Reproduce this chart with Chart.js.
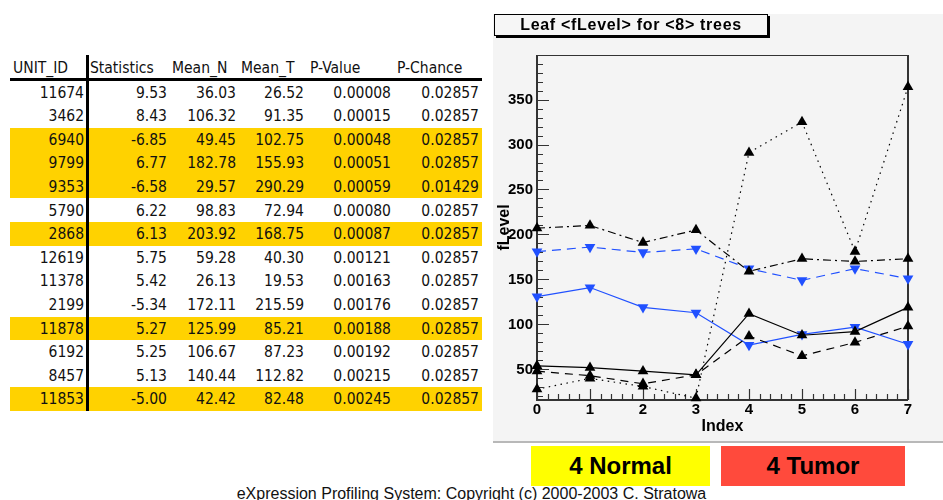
<!DOCTYPE html>
<html>
<head>
<meta charset="utf-8">
<script src="https://cdn.jsdelivr.net/npm/chart.js@4.4.0/dist/chart.umd.min.js"></script>
<style>
  html, body { margin: 0; padding: 0; background: #fff; }
  body { width: 943px; height: 500px; position: relative; overflow: hidden; }
  .cell { position: absolute; font-family: "DejaVu Sans Condensed", "DejaVu Sans", sans-serif; font-stretch: condensed; font-size: 15.5px; color: #111; white-space: nowrap; }
  .hl { position: absolute; left: 10px; width: 472px; background: #ffd200; }
  #panel { position: absolute; left: 493px; top: 14px; width: 450px; height: 427px; background: #f4f4f4; border-bottom: 2px solid #b8b8b8; }
  #plotTitle { position: absolute; left: 494px; top: 14px; width: 272px; height: 20px; border: 1px solid #000; background: #f6f6f6; box-shadow: 2px 2px 0 #000;
    font: bold 16px "Liberation Sans", Arial, sans-serif; letter-spacing: 0.7px; text-align: center; line-height: 20px; z-index: 2; }
  #chartBox { position: absolute; left: 493px; top: 14px; width: 450px; height: 428px; z-index: 1; }
  .legendBox { position: absolute; top: 446px; height: 40px; font: bold 24px "Liberation Sans", Arial, sans-serif; text-align: center; line-height: 40px; color: #000; }
  #footer { position: absolute; left: 0; width: 943px; top: 486px; text-align: center; font: 16px "Liberation Sans", Arial, sans-serif; line-height: 16px; color: #111; }
</style>
</head>
<body>
<div id="table"></div>
<div id="panel"></div>
<div id="plotTitle">Leaf &lt;fLevel&gt; for &lt;8&gt; trees</div>
<div id="chartBox"><canvas id="treeChart" width="450" height="428"></canvas></div>
<div class="legendBox" style="left:531px;width:179px;background:#ffff00;">4 Normal</div>
<div class="legendBox" style="left:721px;width:184px;background:#ff4a3c;">4 Tumor</div>
<div id="footer">eXpression Profiling System: Copyright (c) 2000-2003 C. Stratowa</div>

<script>
// table values
var headers = ['UNIT_ID', 'Statistics', 'Mean_N', 'Mean_T', 'P-Value', 'P-Chance'];
var unitIds = ['11674', '3462', '6940', '9799', '9353', '5790', '2868', '12619', '11378', '2199', '11878', '6192', '8457', '11853'];
var statistics = ['9.53', '8.43', '-6.85', '6.77', '-6.58', '6.22', '6.13', '5.75', '5.42', '-5.34', '5.27', '5.25', '5.13', '-5.00'];
var meanN = ['36.03', '106.32', '49.45', '182.78', '29.57', '98.83', '203.92', '59.28', '26.13', '172.11', '125.99', '106.67', '140.44', '42.42'];
var meanT = ['26.52', '91.35', '102.75', '155.93', '290.29', '72.94', '168.75', '40.30', '19.53', '215.59', '85.21', '87.23', '112.82', '82.48'];
var pValue = ['0.00008', '0.00015', '0.00048', '0.00051', '0.00059', '0.00080', '0.00087', '0.00121', '0.00163', '0.00176', '0.00188', '0.00192', '0.00215', '0.00245'];
var pChance = ['0.02857', '0.02857', '0.02857', '0.02857', '0.01429', '0.02857', '0.02857', '0.02857', '0.02857', '0.02857', '0.02857', '0.02857', '0.02857', '0.02857'];
var highlighted = ['6940', '9799', '9353', '2868', '11878', '11853'];

// chart values (fLevel per tree index, 0-3 normal, 4-7 tumor)
var treeIndex = [0, 1, 2, 3, 4, 5, 6, 7];
var level6940 = [54, 52, 48, 44, 112, 88, 92, 119];
var level9799 = [181, 186, 180, 184, 162, 149, 162, 151];
var level9353 = [28, 40, 31, 18, 291, 325, 181, 364];
var level2868 = [207, 210, 191, 205, 159, 173, 170, 173];
var level11878 = [131, 141, 119, 113, 77, 89, 97, 78];
var level11853 = [48, 43, 34, 44, 87, 65, 80, 98];
var yTickValues = [50, 100, 150, 200, 250, 300, 350];

// build the table
(function buildTable() {
    var box = document.getElementById('table');
    var cols = [unitIds, statistics, meanN, meanT, pValue, pChance];
    var rightEdges = [84, 167, 236, 304, 391, 479];
    var headerLeft = [13, 90, 172, 241, 310, 397];
    var rowTop = 80.5, rowH = 23.6;
    var html = '';
    for (var r = 0; r < unitIds.length; r++) {
        if (highlighted.indexOf(unitIds[r]) >= 0) {
            html += '<div class="hl" style="top:' + (rowTop + r * rowH) + 'px;height:' + rowH + 'px"></div>';
        }
    }
    for (var c = 0; c < headers.length; c++) {
        html += '<div class="cell" style="left:' + headerLeft[c] + 'px;top:57px;line-height:22px">' + headers[c] + '</div>';
        for (var r = 0; r < unitIds.length; r++) {
            html += '<div class="cell" style="right:' + (943 - rightEdges[c]) + 'px;top:' + (rowTop + r * rowH + 1) +
                'px;line-height:' + rowH + 'px">' + cols[c][r] + '</div>';
        }
    }
    // header rule and separator
    html += '<div style="position:absolute;left:10px;width:472px;top:78px;height:3px;background:#000"></div>';
    html += '<div style="position:absolute;left:86px;width:3px;top:55px;height:356px;background:#000"></div>';
    box.innerHTML = html;
})();

// frame and ROOT-like inner ticks
var rootFrame = {
    id: 'rootFrame',
    beforeDatasetsDraw: function(chart) {
        var ctx = chart.ctx, a = chart.chartArea;
        var x = chart.scales.x, y = chart.scales.y;
        ctx.save();
        ctx.strokeStyle = '#333';
        ctx.lineWidth = 1;
        ctx.beginPath();
        ctx.moveTo(a.left, a.top + 0.5);
        ctx.lineTo(a.right, a.top + 0.5);
        ctx.stroke();
        ctx.lineWidth = 2;
        ctx.beginPath();
        ctx.moveTo(a.right, a.top);
        ctx.lineTo(a.right, a.bottom);
        ctx.moveTo(a.left, a.top);
        ctx.lineTo(a.left, a.bottom);
        ctx.lineTo(a.right, a.bottom);
        ctx.stroke();
        ctx.lineWidth = 1.2;
        ctx.beginPath();
        for (var v = 20; v < y.max; v += 10) {
            var py = Math.round(y.getPixelForValue(v)) + 0.5;
            var len = (v % 50 === 0) ? 12 : 6;
            ctx.moveTo(a.left, py);
            ctx.lineTo(a.left + len, py);
        }
        for (var i = 0; i <= 35; i++) {
            var px = Math.round(x.getPixelForValue(i / 5)) + 0.5;
            var l = (i % 5 === 0) ? 11 : 6;
            ctx.moveTo(px, a.bottom);
            ctx.lineTo(px, a.bottom - l);
        }
        ctx.stroke();
        ctx.restore();
    }
};

function series(label, values, color, dash, down) {
    return {
        label: label,
        data: values,
        borderColor: color,
        backgroundColor: color,
        pointBackgroundColor: color,
        pointBorderColor: color,
        borderWidth: 1.2,
        borderDash: dash,
        pointStyle: 'triangle',
        pointRadius: 6.2,
        pointBorderWidth: 0,
        pointRotation: down ? 180 : 0,
        tension: 0,
        clip: false
    };
}

var ctx = document.getElementById('treeChart').getContext('2d');
var myChart = new Chart(ctx, {
    type: 'line',
    data: {
        labels: treeIndex,
        datasets: [
            series('9353', level9353, '#000', [1.5, 4.5], false),
            series('2868', level2868, '#000', [8, 4, 2, 4], false),
            series('11853', level11853, '#000', [8, 6], false),
            series('6940', level6940, '#000', [], false),
            series('9799', level9799, '#2050ff', [9, 6], true),
            series('11878', level11878, '#2050ff', [], true)
        ]
    },
    options: {
        responsive: false,
        animation: false,
        layout: { padding: { left: 0, top: 41, right: 35, bottom: 0 } },
        plugins: { legend: { display: false }, tooltip: { enabled: false } },
        scales: {
            x: {
                type: 'linear',
                min: 0,
                max: 7,
                grid: { display: false, drawTicks: false },
                border: { display: false },
                ticks: { stepSize: 1, padding: 1, color: '#000', font: { family: 'Liberation Sans', size: 15, weight: 'bold' } },
                title: { display: true, text: 'Index', color: '#000', padding: { top: 0, bottom: 6 }, font: { family: 'Liberation Sans', size: 16, weight: 'bold' } },
                afterFit: function(scale) { scale.height = 42; }
            },
            y: {
                min: 16,
                max: 399.5,
                grid: { display: false, drawTicks: false },
                border: { display: false },
                afterBuildTicks: function(scale) {
                    scale.ticks = yTickValues.map(function(v) { return { value: v }; });
                },
                ticks: { padding: 4, color: '#000', font: { family: 'Liberation Sans', size: 15, weight: 'bold' } },
                title: { display: true, text: 'fLevel', color: '#000', padding: { top: 2, bottom: 0 }, font: { family: 'Liberation Sans', size: 16, weight: 'bold' } },
                afterFit: function(scale) { scale.width = 44; }
            }
        }
    },
    plugins: [rootFrame]
});
</script>
</body>
</html>
